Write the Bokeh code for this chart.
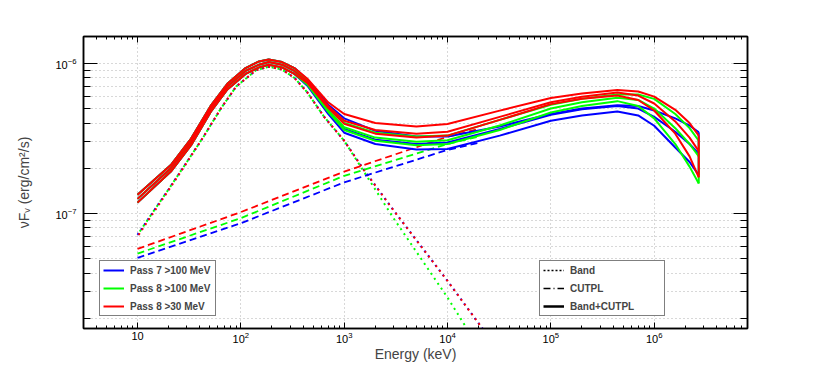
from bokeh.plotting import figure
from bokeh.models import (LogAxis, FixedTicker, LogTickFormatter, Legend, LegendItem,
                          Range1d)
from bokeh.embed import file_html
from bokeh.resources import INLINE

# ---------------- data ----------------
# energies (keV) where the Band+CUTPL curves were read
energy_solid = [10, 21, 33, 51, 74, 111, 150, 186, 250, 330,
                440, 700, 1000, 2000, 5000, 1e4, 3.2e4, 1e5, 2e5, 4.4e5,
                7e5, 1e6, 1.6e6, 2.2e6, 2.7e6]
# low-energy part (10-330 keV), upper / middle / lower member of each bundle
low_hi = [1.33e-7, 2.1e-7, 3.15e-7, 5.2e-7, 7.3e-7, 9.3e-7, 1.03e-6, 1.06e-6, 1.02e-6, 9.3e-7]
low_mid = [1.25e-7, 2.0e-7, 3.0e-7, 5.0e-7, 7.0e-7, 8.9e-7, 9.8e-7, 1.02e-6, 9.8e-7, 8.9e-7]
low_lo = [1.18e-7, 1.9e-7, 2.85e-7, 4.75e-7, 6.7e-7, 8.5e-7, 9.4e-7, 9.8e-7, 9.4e-7, 8.5e-7]
# high-energy part (440 keV - 2.7 GeV)
red_tail_1 = [7.9e-7, 5.5e-7, 4.6e-7, 4.0e-7, 3.8e-7, 3.94e-7, 4.84e-7, 5.88e-7, 6.3e-7, 6.65e-7, 6.5e-7, 6.0e-7, 4.9e-7, 4.0e-7, 3.3e-7]
red_tail_2 = [7.6e-7, 5.2e-7, 4.15e-7, 3.6e-7, 3.4e-7, 3.5e-7, 4.4e-7, 5.5e-7, 6.0e-7, 6.4e-7, 6.1e-7, 5.4e-7, 4.1e-7, 3.2e-7, 2.6e-7]
red_tail_3 = [7.4e-7, 5.05e-7, 3.95e-7, 3.4e-7, 3.2e-7, 3.3e-7, 4.2e-7, 5.35e-7, 5.8e-7, 6.1e-7, 5.7e-7, 4.85e-7, 3.4e-7, 2.4e-7, 1.74e-7]
green_tail_1 = [7.6e-7, 5.1e-7, 4.0e-7, 3.45e-7, 3.25e-7, 3.3e-7, 4.2e-7, 5.3e-7, 5.8e-7, 6.2e-7, 6.2e-7, 5.8e-7, 4.6e-7, 3.7e-7, 3.05e-7]
green_tail_2 = [7.4e-7, 4.9e-7, 3.75e-7, 3.2e-7, 3.0e-7, 3.07e-7, 3.85e-7, 5.0e-7, 5.5e-7, 5.9e-7, 5.7e-7, 5.0e-7, 3.7e-7, 2.9e-7, 2.4e-7]
green_tail_3 = [7.2e-7, 4.75e-7, 3.6e-7, 3.05e-7, 2.85e-7, 2.9e-7, 3.6e-7, 4.7e-7, 5.2e-7, 5.6e-7, 5.2e-7, 4.3e-7, 2.9e-7, 2.05e-7, 1.58e-7]
blue_tail_1 = [7.8e-7, 5.3e-7, 4.3e-7, 3.55e-7, 3.25e-7, 3.25e-7, 3.8e-7, 4.6e-7, 5.0e-7, 5.25e-7, 5.2e-7, 4.85e-7, 4.3e-7, 3.85e-7, 3.47e-7]
blue_tail_2 = [7.3e-7, 4.8e-7, 3.65e-7, 3.1e-7, 2.9e-7, 2.97e-7, 3.65e-7, 4.55e-7, 4.95e-7, 5.2e-7, 5.0e-7, 4.4e-7, 3.5e-7, 2.9e-7, 2.5e-7]
blue_tail_3 = [7.1e-7, 4.6e-7, 3.45e-7, 2.9e-7, 2.67e-7, 2.69e-7, 3.3e-7, 4.15e-7, 4.5e-7, 4.78e-7, 4.5e-7, 3.84e-7, 2.75e-7, 2.2e-7, 1.8e-7]

# Band component (dotted)
energy_band = [10, 13, 20, 30, 43, 64, 90, 140, 186, 250, 330, 440, 640, 1000, 1550, 3000, 1e4, 2.5e4]
band_pass7_100 = [7.2e-8, 9.4e-8, 1.45e-7, 2.2e-7, 3.2e-7, 5.0e-7, 7.0e-7, 9.0e-7, 9.5e-7, 9.1e-7, 8.0e-7, 6.4e-7, 4.4e-7, 3.05e-7, 1.95e-7, 1.05e-7, 3.55e-8, 1.5e-8]
band_pass8_100 = [7.2e-8, 9.4e-8, 1.45e-7, 2.2e-7, 3.2e-7, 5.0e-7, 7.0e-7, 9.0e-7, 9.5e-7, 9.1e-7, 8.0e-7, 6.4e-7, 4.4e-7, 3.05e-7, 1.9e-7, 9.3e-8, 2.75e-8, 1.0e-8]
band_pass8_30 = [7.0e-8, 9.2e-8, 1.43e-7, 2.18e-7, 3.2e-7, 5.0e-7, 7.0e-7, 9.0e-7, 9.5e-7, 9.1e-7, 8.0e-7, 6.4e-7, 4.4e-7, 3.05e-7, 1.95e-7, 1.05e-7, 3.55e-8, 1.5e-8]

# CUTPL component (dashed)
energy_pl = [10, 100, 1000, 1e4, 2e4]
cutpl_pass7_100 = [5.05e-8, 8.6e-8, 1.61e-7, 2.65e-7, 2.95e-7]
cutpl_pass8_100 = [5.4e-8, 9.3e-8, 1.78e-7, 2.9e-7, 3.25e-7]
cutpl_pass8_30 = [5.8e-8, 1.02e-7, 1.9e-7, 3.24e-7, 3.65e-7]

series_labels = ["Pass 7 >100 MeV", "Pass 8 >100 MeV", "Pass 8 >30 MeV"]
model_labels = ["Band", "CUTPL", "Band+CUTPL"]

# axis ticks
x_major_ticks = [10, 1e2, 1e3, 1e4, 1e5, 1e6]
y_major_ticks = [1e-8, 1e-7, 1e-6]
minor_mantissas = [2, 3, 4, 5, 6, 7, 8, 9]
x_decades = [1, 10, 1e2, 1e3, 1e4, 1e5, 1e6]
y_decades = [1e-8, 1e-7, 1e-6]

# ---------------- styling ----------------
FONT = "Liberation Sans"
BLUE, GREEN, RED = "#0000ff", "#00ff00", "#ff0000"
GRID = "#b0b0b0"

p = figure(width=830, height=365, x_axis_type="log", y_axis_type="log",
           x_range=Range1d(3, 8e6), y_range=Range1d(1.71e-8, 1.51e-6),
           output_backend="svg", toolbar_location=None,
           min_border_left=83, min_border_right=83,
           min_border_top=36, min_border_bottom=37)
p.outline_line_color = "black"
p.outline_line_width = 1.5
p.background_fill_color = "white"
p.border_fill_color = "white"

xt = FixedTicker(ticks=x_major_ticks,
                 minor_ticks=[m * d for d in x_decades for m in minor_mantissas])
yt = FixedTicker(ticks=y_major_ticks,
                 minor_ticks=[m * d for d in y_decades for m in minor_mantissas])

# grids
p.xgrid.ticker = xt
p.ygrid.ticker = yt
p.xgrid.grid_line_color = GRID
p.xgrid.grid_line_dash = "1 3"
p.ygrid.grid_line_color = GRID
p.ygrid.grid_line_dash = "1 3"
p.ygrid.minor_grid_line_color = GRID
p.ygrid.minor_grid_line_dash = "1 3"

def style_axis(ax, tin, tmin, show_labels=True):
    ax.axis_line_color = "black"
    ax.axis_line_width = 1.5
    ax.major_tick_in = tin
    ax.major_tick_out = 0
    ax.minor_tick_in = tmin
    ax.minor_tick_out = 0
    ax.major_tick_line_color = "black"
    ax.minor_tick_line_color = "black"
    ax.major_tick_line_width = 1
    ax.minor_tick_line_width = 1
    ax.major_label_text_font = FONT
    ax.major_label_text_font_size = "11px"
    if show_labels:
        ax.major_label_text_color = "black"
    else:
        ax.major_label_text_alpha = 0
        ax.major_label_standoff = 0

xa = p.xaxis[0]
xa.ticker = xt
xa.formatter = LogTickFormatter()
xa.major_label_overrides = {10: "10"}
style_axis(xa, 6, 3)
xa.major_label_standoff = 3
xa.axis_label = "Energy (keV)"
xa.axis_label_text_font = FONT
xa.axis_label_text_font_size = "14px"
xa.axis_label_text_font_style = "normal"
xa.axis_label_standoff = 0

ya = p.yaxis[0]
ya.ticker = yt
ya.formatter = LogTickFormatter()
style_axis(ya, 14, 7)
ya.major_label_standoff = 7
ya.axis_label = "\u03bdF\u1d65 (erg/cm\u00b2/s)"
ya.axis_label_text_font = FONT
ya.axis_label_text_font_size = "14px"
ya.axis_label_text_font_style = "normal"
ya.axis_label_standoff = 20

top = LogAxis(ticker=xt, formatter=LogTickFormatter())
style_axis(top, 6, 3, show_labels=False)
p.add_layout(top, "above")
right = LogAxis(ticker=yt, formatter=LogTickFormatter())
style_axis(right, 14, 7, show_labels=False)
p.add_layout(right, "right")

# ---------------- glyphs ----------------
# Band (dotted), offset dash phases so the three colours interleave
for col, vals, off in [(BLUE, band_pass7_100, 0), (GREEN, band_pass8_100, 2), (RED, band_pass8_30, 4)]:
    p.line(energy_band, vals, line_color=col, line_width=2, line_dash="2 4", line_dash_offset=off)

# CUTPL (dashed)
for col, vals in [(BLUE, cutpl_pass7_100), (GREEN, cutpl_pass8_100), (RED, cutpl_pass8_30)]:
    p.line(energy_pl, vals, line_color=col, line_width=1.8, line_dash="7 4")

# Band+CUTPL (solid)
groups = [
    (BLUE, [low_hi + blue_tail_1, low_mid + blue_tail_2, low_lo + blue_tail_3]),
    (GREEN, [low_hi + green_tail_1, low_mid + green_tail_2, low_lo + green_tail_3]),
    (RED, [low_hi + red_tail_1, low_mid + red_tail_2, low_lo + red_tail_3]),
]
legend_renderers = []
for col, curves in groups:
    first = None
    for c in curves:
        r = p.line(energy_solid, c, line_color=col, line_width=2)
        if first is None:
            first = r
    ends = [c[-1] for c in curves]
    p.segment(x0=[energy_solid[-1]], y0=[min(ends)], x1=[energy_solid[-1]], y1=[max(ends)],
              line_color=col, line_width=2)
    legend_renderers.append(first)

# proxy renderers (no visible data) for the model-style legend
nan = float("nan")
d_band = p.line([nan, nan], [nan, nan], line_color="black", line_width=1.5, line_dash="2 2")
d_pl = p.line([nan, nan], [nan, nan], line_color="black", line_width=1.5, line_dash="7 3 1 3")
d_sum = p.line([nan, nan], [nan, nan], line_color="black", line_width=2.5)

def make_legend(items, loc, label_w):
    lg = Legend(items=items, location=loc)
    lg.border_line_color = "black"
    lg.border_line_width = 1.5
    lg.background_fill_color = "white"
    lg.background_fill_alpha = 1
    lg.label_text_font = FONT
    lg.label_text_font_style = "bold"
    lg.label_text_font_size = "10px"
    lg.glyph_width = 21
    lg.glyph_height = 12
    lg.label_height = 12
    lg.label_width = label_w
    lg.spacing = 6
    lg.padding = 3
    lg.margin = 0
    lg.label_standoff = 6
    return lg

leg1 = make_legend([LegendItem(label=lab, renderers=[r]) for lab, r in zip(series_labels, legend_renderers)], (16, 12), 82)
leg2 = make_legend([LegendItem(label=lab, renderers=[r]) for lab, r in zip(model_labels, [d_band, d_pl, d_sum])], (456, 12), 91)
p.add_layout(leg1)
p.add_layout(leg2)

open("out.html", "w").write(file_html(p, INLINE))
